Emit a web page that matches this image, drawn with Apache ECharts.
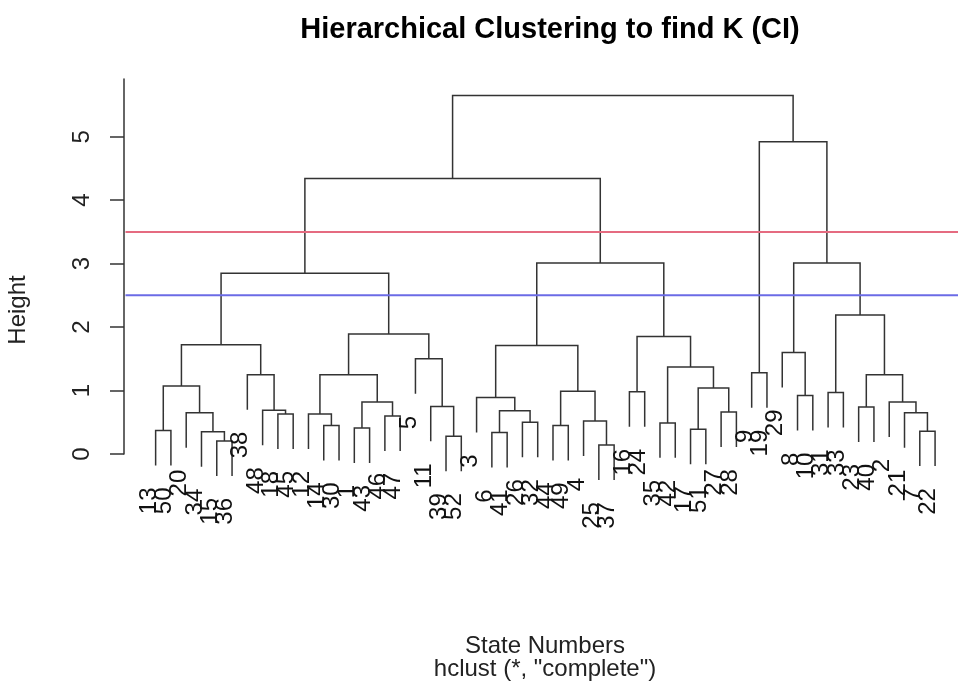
<!DOCTYPE html>
<html>
<head>
<meta charset="utf-8">
<script src="https://cdn.jsdelivr.net/npm/echarts@6/dist/echarts.min.js"></script>
<style>html,body{margin:0;padding:0;background:#fff;}#chart{width:958px;height:689px;}</style>
</head>
<body>
<div id="chart"></div>
<script>
// Leaf order (state numbers as they appear left to right)
const leafOrder = [13,50,20,34,15,36,38,48,18,45,12,14,30,1,43,46,47,5,11,39,52,3,6,41,26,32,44,49,4,25,37,16,24,35,42,17,51,27,28,9,19,29,8,10,31,33,23,40,2,21,7,22];
// Merges (R hclust convention: negative = state number leaf, positive = earlier merge step)
const mergeLeft  = [-15,-34,-20,-13,4,-18,-48,-38,5,-14,-12,-1,-46,12,11,-39,-11,-5,15,9,-6,-26,21,-3,-44,-25,-4,25,24,-16,-35,-17,-27,32,31,30,29,20,-9,-8,-29,-31,-23,-7,-21,-2,43,42,41,39,38];
const mergeRight = [-36,1,2,-50,3,-45,6,7,8,-30,10,-43,-47,13,14,-52,16,17,18,19,-41,-32,22,23,-49,-37,26,27,28,-24,-42,-51,-28,33,34,35,36,37,-19,-10,40,-33,-40,-22,44,45,46,47,48,49,50];
const mergeHeights = [0.205,0.35,0.65,0.37,1.07,0.63,0.69,1.25,1.72,0.45,0.63,0.41,0.60,0.82,1.25,0.28,0.75,1.50,1.89,2.85,0.34,0.50,0.68,0.89,0.45,0.14,0.52,0.99,1.71,0.98,0.49,0.39,0.66,1.04,1.37,1.85,3.01,4.34,1.28,0.92,1.60,0.97,0.74,0.36,0.65,0.82,1.25,2.19,3.01,4.92,5.65];
const yTicks = [0,1,2,3,4,5];
const cutHeights = [3.5, 2.5];
const cutColors = ['#e56b80', '#6b6be6'];

const FONT = 'Liberation Sans, Arial, Helvetica, sans-serif';
const LINE = '#333';

const hMax = Math.max(...mergeHeights), hMin = Math.min(...mergeHeights);
const hang = 0.1 * (hMax - hMin);
const leafIndex = {};
leafOrder.forEach((s, i) => { leafIndex[s] = i; });

const nodeX = [], nodeH = [];
const segData = [];
const leafData = [];
mergeLeft.forEach((a, k) => {
  const b = mergeRight[k];
  const h = mergeHeights[k];
  const child = (c) => {
    if (c < 0) {
      const i = leafIndex[-c];
      leafData.push([i, h - hang, -c]);
      return [i, h - hang];
    }
    return [nodeX[c - 1], nodeH[c - 1]];
  };
  const ca = child(a), cb = child(b);
  nodeX[k] = (ca[0] + cb[0]) / 2;
  nodeH[k] = h;
  segData.push([ca[0], ca[1], cb[0], cb[1], h]);
});

const X_MIN = -2.07, X_MAX = 52.5;

const chart = echarts.init(document.getElementById('chart'), null, {renderer: 'canvas'});
chart.setOption({
  animation: false,
  backgroundColor: '#fff',
  title: {
    text: 'Hierarchical Clustering to find K (CI)',
    left: 545, top: 10, textAlign: 'center',
    textStyle: {fontFamily: FONT, fontSize: 29, fontWeight: 'bold', color: '#000'}
  },
  grid: {left: 124, right: 0, top: 79, bottom: 235, containLabel: false},
  xAxis: {type: 'value', min: X_MIN, max: X_MAX, show: false},
  yAxis: {
    type: 'value', min: 0, max: 5.91,
    axisLine: {show: true, onZero: false, lineStyle: {color: LINE, width: 1.5}},
    axisTick: {show: true, length: 14, customValues: yTicks, lineStyle: {color: LINE, width: 1.5}},
    axisLabel: {show: true, rotate: 90, margin: 30, customValues: yTicks,
      fontFamily: FONT, fontSize: 24, color: '#222'},
    splitLine: {show: false}
  },
  graphic: [
    {type: 'text', x: 18.6, y: 310, rotation: Math.PI / 2,
      style: {text: 'Height', fontFamily: FONT, fontSize: 24, fill: '#222', align: 'center', verticalAlign: 'middle'}},
    {type: 'text', x: 545, y: 646,
      style: {text: 'State Numbers', fontFamily: FONT, fontSize: 24, fill: '#222', align: 'center', verticalAlign: 'middle'}},
    {type: 'text', x: 545, y: 669,
      style: {text: 'hclust (*, "complete")', fontFamily: FONT, fontSize: 24, fill: '#222', align: 'center', verticalAlign: 'middle'}}
  ],
  series: [
    {
      type: 'custom', name: 'dendrogram', clip: false, silent: true,
      data: segData,
      renderItem: function (params, api) {
        const p1 = api.coord([api.value(0), api.value(1)]);
        const p2 = api.coord([api.value(0), api.value(4)]);
        const p3 = api.coord([api.value(2), api.value(4)]);
        const p4 = api.coord([api.value(2), api.value(3)]);
        return {type: 'polyline', shape: {points: [p1, p2, p3, p4]},
          style: {stroke: LINE, lineWidth: 1.5, fill: null}};
      }
    },
    {
      type: 'custom', name: 'leaves', clip: false, silent: true,
      data: leafData,
      renderItem: function (params, api) {
        const p = api.coord([api.value(0), api.value(1)]);
        return {type: 'text', x: p[0] + 5.5, y: p[1] + 22, rotation: Math.PI / 2,
          style: {text: String(api.value(2)), fontFamily: FONT, fontSize: 24, fill: '#111',
            align: 'right', verticalAlign: 'bottom'}};
      }
    },
    {
      type: 'custom', name: 'cuts', clip: false, silent: true,
      data: cutHeights.map((h, i) => [h, i]),
      renderItem: function (params, api) {
        const h = api.value(0);
        const a = api.coord([X_MIN, h]);
        const b = api.coord([X_MAX, h]);
        return {type: 'line', shape: {x1: a[0] + 1.5, y1: a[1], x2: b[0], y2: b[1]},
          style: {stroke: cutColors[api.value(1)], lineWidth: 2}};
      }
    }
  ]
});
</script>
</body>
</html>
